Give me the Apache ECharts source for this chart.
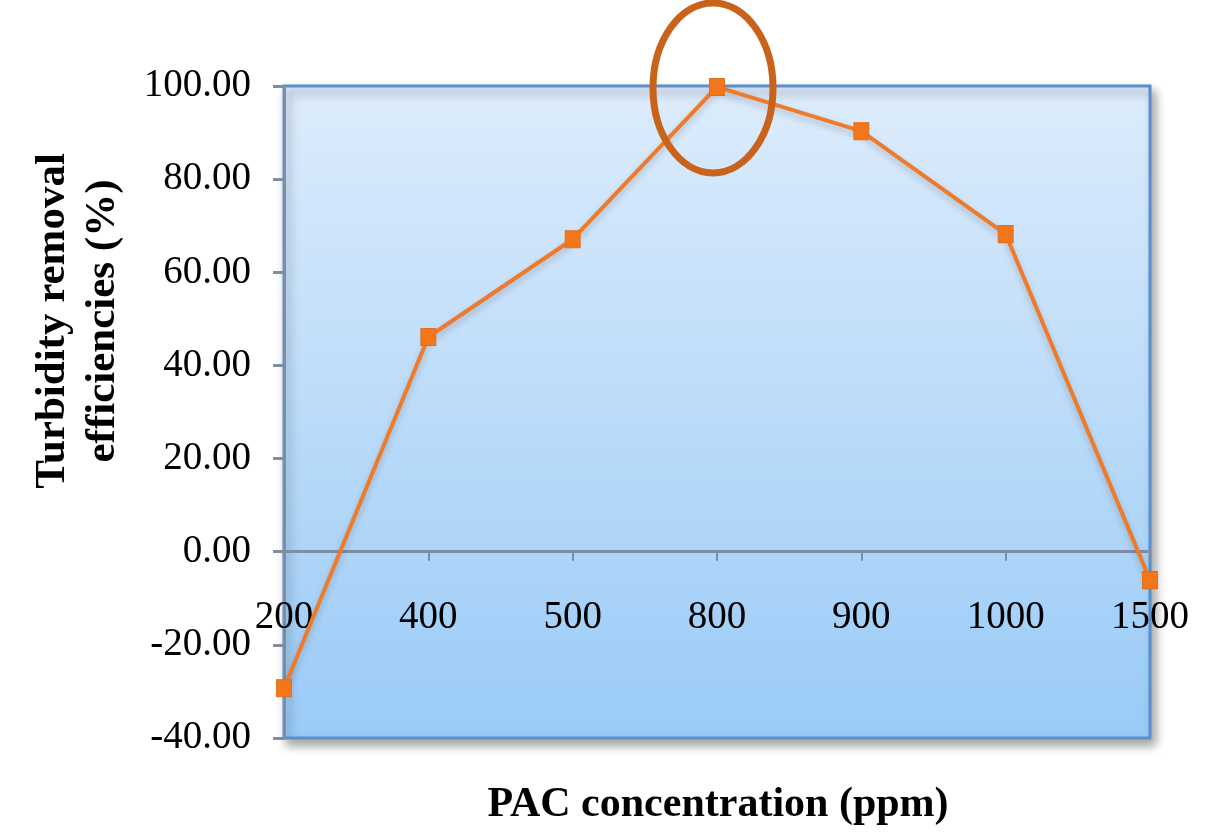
<!DOCTYPE html>
<html>
<head>
<meta charset="utf-8">
<title>Turbidity removal vs PAC concentration</title>
<script src="https://cdn.jsdelivr.net/npm/echarts@6/dist/echarts.min.js"></script>
<style>
  html, body { margin: 0; padding: 0; background: #ffffff; }
  #chart { width: 1232px; height: 836px; }
</style>
</head>
<body>
<div id="chart"></div>
<script>
// PAC dose (ppm) and measured turbidity removal efficiency (%)
const pacDoses = ['200', '400', '500', '800', '900', '1000', '1500'];
const removalEfficiency = [-29.3, 46.1, 67.1, 99.8, 90.3, 68.2, -6.1];
const yTicks = { min: -40, max: 100, interval: 20 };
const xAxisTitle = 'PAC concentration (ppm)';
const yAxisTitle = 'Turbidity removal\nefficiencies (%)';
const optimumDose = '800';

const serif = '"Liberation Serif", "DejaVu Serif", serif';
const chart = echarts.init(document.getElementById('chart'));

chart.setOption({
  animation: false,
  backgroundColor: '#ffffff',
  grid: {
    show: true,
    left: 284,
    right: 82,
    top: 86,
    bottom: 98,
    borderColor: '#5b8fcc',
    borderWidth: 3,
    backgroundColor: new echarts.graphic.LinearGradient(0, 0, 0, 1, [
      { offset: 0, color: '#ddecfc' },
      { offset: 1, color: '#9acbf7' }
    ]),
    shadowColor: 'rgba(0,0,0,0.35)',
    shadowBlur: 10,
    shadowOffsetX: 4,
    shadowOffsetY: 6
  },
  xAxis: {
    type: 'category',
    data: pacDoses,
    boundaryGap: false,
    axisLine: { onZero: true, lineStyle: { color: '#7d8ea3', width: 3 } },
    axisTick: { show: true, length: 9, lineStyle: { color: '#7d8ea3', width: 2 } },
    axisLabel: {
      // labels sit just under the zero line rather than at the grid bottom
      margin: -140,
      color: '#000000',
      fontFamily: serif,
      fontSize: 39
    },
    splitLine: { show: false }
  },
  yAxis: {
    type: 'value',
    min: yTicks.min,
    max: yTicks.max,
    interval: yTicks.interval,
    axisLine: { show: true, lineStyle: { color: '#7d8ea3', width: 3 } },
    axisTick: { show: true, length: 11, lineStyle: { color: '#7d8ea3', width: 3 } },
    axisLabel: {
      margin: 33,
      color: '#000000',
      fontFamily: serif,
      fontSize: 39,
      formatter: v => v.toFixed(2)
    },
    splitLine: { show: false }
  },
  series: [{
    type: 'line',
    data: removalEfficiency,
    symbol: 'rect',
    symbolSize: [15, 17],
    z: 5,
    lineStyle: {
      color: '#ee7b2c',
      width: 4,
      shadowColor: 'rgba(60,60,60,0.25)',
      shadowBlur: 6,
      shadowOffsetY: 4
    },
    itemStyle: {
      color: '#f3761a',
      borderColor: '#e0701f',
      borderWidth: 1
    }
  }]
});

// Axis titles and the ring that highlights the optimum dose
function drawOverlays() {
  const i = pacDoses.indexOf(optimumDose);
  const peak = chart.convertToPixel({ seriesIndex: 0 }, [i, removalEfficiency[i]]);
  chart.setOption({
    graphic: [
      {
        type: 'text',
        x: 718,
        y: 805,
        style: {
          text: xAxisTitle,
          textAlign: 'center',
          textVerticalAlign: 'middle',
          fontFamily: serif,
          fontWeight: 'bold',
          fontSize: 42,
          fill: '#000000'
        }
      },
      {
        type: 'text',
        x: 78,
        y: 321,
        rotation: Math.PI / 2,
        style: {
          text: yAxisTitle,
          textAlign: 'center',
          textVerticalAlign: 'middle',
          lineHeight: 50,
          fontFamily: serif,
          fontWeight: 'bold',
          fontSize: 43,
          fill: '#000000'
        }
      },
      {
        type: 'ellipse',
        z: 10,
        shape: { cx: peak[0] - 4, cy: peak[1] + 1, rx: 60, ry: 85 },
        style: { fill: 'none', stroke: '#c9621a', lineWidth: 7 }
      }
    ]
  });
}
drawOverlays();
</script>
</body>
</html>
